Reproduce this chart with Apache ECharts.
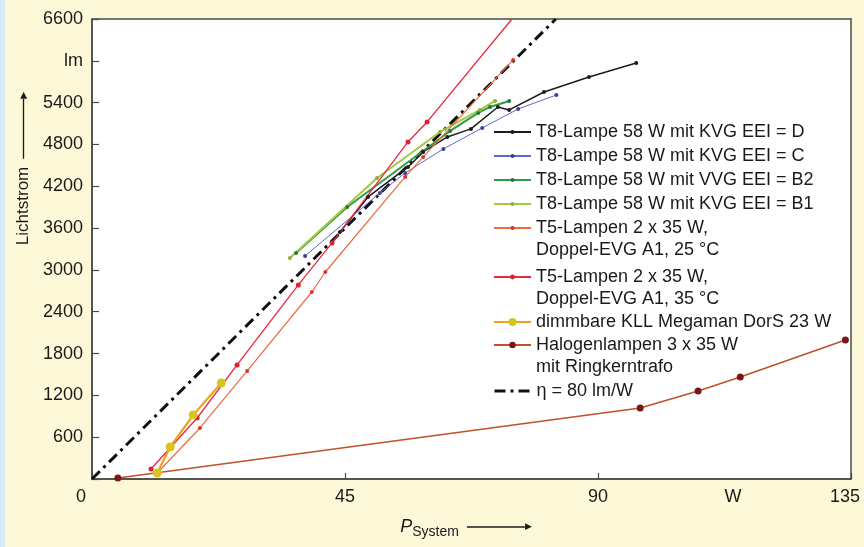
<!DOCTYPE html>
<html><head><meta charset="utf-8">
<script src="https://cdn.jsdelivr.net/npm/echarts@6/dist/echarts.min.js"></script>
<style>html,body{margin:0;padding:0;background:#fdf8d8;}#c{width:864px;height:547px;}</style>
</head><body><div id="c"></div>
<script>
// Data [P_System (W), Lichtstrom (lm)]
const t8D  = [[44.1,3544],[49.1,4047],[56.2,4477],[58.9,4692],[63.2,4908],[67.4,5023],[72.2,5338],[74.2,5295],[80.4,5553],[88.4,5769],[96.8,5970]];
const t8C  = [[37.9,3200],[51.2,4104],[55.7,4391],[62.5,4736],[69.4,5037],[75.8,5310],[82.6,5510]];
const t8B2 = [[36.3,3243],[45.4,3903],[63.7,4994],[68.7,5252],[70.8,5338],[74.2,5424]];
const t8B1 = [[35.2,3171],[50.7,4319],[61.9,4979],[69.0,5295],[71.7,5424]];
const t5_25 = [[11.6,86],[19.2,732],[27.6,1550],[39.1,2683],[41.5,2970],[55.7,4334],[58.9,4621],[74.9,6013]];
const t5_35 = [[10.5,144],[18.7,875],[25.8,1636],[36.7,2784],[42.7,3387],[56.2,4836],[59.6,5123],[74.7,6600]];
const kll = [[11.6,86],[13.9,459],[18.0,918],[23.0,1378]];
const halogen = [[4.6,14],[97.5,1019],[107.8,1263],[115.3,1464],[134.0,1995]];
const eta = [[0,0],[82.5,6600]];

const names = [
  'T8-Lampe 58 W mit KVG EEI = D',
  'T8-Lampe 58 W mit KVG EEI = C',
  'T8-Lampe 58 W mit VVG EEI = B2',
  'T8-Lampe 58 W mit KVG EEI = B1',
  'T5-Lampen 2 x 35 W,\nDoppel-EVG A1, 25 °C',
  'T5-Lampen 2 x 35 W,\nDoppel-EVG A1, 35 °C',
  'dimmbare KLL Megaman DorS 23 W',
  'Halogenlampen 3 x 35 W\nmit Ringkerntrafo',
  'η = 80 lm/W'
];
const xTickLabels = {0:'{z|0}',45:'45',90:'90',114:'W',135:'{r|135}'};
const yTickLabels = {600:'600',1200:'1200',1800:'1800',2400:'2400',3000:'3000',3600:'3600',4200:'4200',4800:'4800',5400:'5400',6000:'lm',6600:'6600'};

const FONT = '"Liberation Sans", Arial, Helvetica, sans-serif';
const TXT = '#1a1a1a';
function line(name, data, color, width, symColor, symSize, extra) {
  return Object.assign({
    name, type:'line', data, showSymbol:true, symbol:'circle', symbolSize:symSize,
    lineStyle:{color, width}, itemStyle:{color:symColor}, z:3, animation:false
  }, extra||{});
}
const t5_35Data = t5_35.map((p,i)=> i===t5_35.length-1 ? {value:p, symbol:'none'} : p);

function lg(top, data, itemHeight){
  return {
    orient:'vertical', left:493, top, padding:0, itemWidth:37, itemHeight, itemGap:2, data,
    formatter:function(n){ return n.indexOf('\n')>=0 ? '\n'+n : n; },
    textStyle:{fontFamily:FONT, fontSize:18, lineHeight:22, color:TXT}
  };
}
const arrowRich = {
  l:{width:58, height:1.3, backgroundColor:TXT, verticalAlign:'middle'},
  h:{fontFamily:'DejaVu Sans', fontSize:9, color:TXT, verticalAlign:'middle'},
  g:{width:8, verticalAlign:'middle'}
};

const chart = echarts.init(document.getElementById('c'));
chart.setOption({
  backgroundColor:'#fdf8d8',
  animation:false,
  graphic:[{type:'rect', left:0, top:0, shape:{width:5, height:547}, style:{fill:'#d6ecf8'}, silent:true}],
  grid:{left:92, right:13, top:19, bottom:68, containLabel:false, outerBoundsMode:'none',
        show:true, backgroundColor:'#ffffff', borderColor:'#4a4a4a', borderWidth:1.5},
  legend:[
    lg(121, names.slice(0,4), 5),
    lg(195, [names[4]], 5),
    lg(244, [names[5]], 6),
    lg(311, [names[6]], 10),
    lg(312, [names[7]], 8),
    lg(380, [{name:names[8], itemStyle:{opacity:0}, lineStyle:{type:[11,5,3,5], width:3, color:'#111'}}], 2)
  ],
  xAxis:[{
    type:'value', min:0, max:135, interval:1.5,
    name:'{p|P}{s|System}{g| }{l| }{h|▶}', nameLocation:'middle', nameGap:36,
    nameTextStyle:{padding:[0,11,0,0], rich:Object.assign({
      p:{fontFamily:FONT, fontSize:18, fontStyle:'italic', color:TXT, verticalAlign:'middle'},
      s:{fontFamily:FONT, fontSize:14, color:TXT, padding:[10,0,0,0], verticalAlign:'middle'}
    }, arrowRich)},
    axisLine:{show:true, lineStyle:{color:'#4a4a4a', width:1.5}},
    axisTick:{show:false}, splitLine:{show:false},
    axisLabel:{margin:9, color:TXT, fontFamily:FONT, fontSize:18,
      formatter:function(v){ const k=Math.round(v*10)/10; for (const key in xTickLabels){ if (Math.abs(k-key)<0.01) return xTickLabels[key]; } return ''; },
      rich:{
        z:{fontFamily:FONT, fontSize:18, color:TXT, padding:[0,22,0,0]},
        r:{fontFamily:FONT, fontSize:18, color:TXT, padding:[0,12,0,0]}
      }
    }
  },{
    type:'value', min:0, max:135, interval:45, position:'bottom',
    axisLine:{show:false}, axisLabel:{show:false}, splitLine:{show:false},
    axisTick:{show:true, inside:true, length:6, lineStyle:{color:'#4a4a4a', width:1.2}}
  }],
  yAxis:{
    type:'value', min:0, max:6600, interval:600,
    name:'{t|Lichtstrom}{g| }{l| }{h|▶}', nameLocation:'middle', nameGap:60,
    nameTextStyle:{padding:[0,0,0,161], rich:Object.assign({
      t:{fontFamily:FONT, fontSize:17, color:TXT, verticalAlign:'middle'}
    }, arrowRich, {l:{width:60, height:1.3, backgroundColor:TXT, verticalAlign:'middle'}})},
    axisLine:{show:true, lineStyle:{color:'#4a4a4a', width:1.5}},
    axisTick:{show:true, inside:true, length:7, lineStyle:{color:'#4a4a4a', width:1.2}},
    splitLine:{show:false},
    axisLabel:{margin:9, color:TXT, fontFamily:FONT, fontSize:18,
      formatter:function(v){ return yTickLabels[Math.round(v)] || ''; }}
  },
  series:[
    line(names[0], t8D, '#1c1c1c', 1.5, '#1c1c1c', 4),
    line(names[1], t8C, '#6368c8', 1, '#3a3f9a', 4),
    line(names[2], t8B2, '#2f9a4c', 2, '#23783a', 4),
    line(names[3], t8B1, '#a5c93c', 2, '#8cb030', 4),
    line(names[4], t5_25, '#ee6a40', 1.2, '#e0322a', 4),
    line(names[5], t5_35Data, '#e8293f', 1.3, '#e0202a', 5),
    line(names[6], kll, '#f0a21e', 2.2, '#d8c41c', 9),
    line(names[7], halogen, '#c0502c', 1.5, '#7a1616', 7),
    line(names[8], eta, '#111111', 3, '#111111', 0, {showSymbol:false, symbol:'none', lineStyle:{color:'#111111', width:3, type:[11,5,3,5]}, z:2})
  ]
});
</script></body></html>
